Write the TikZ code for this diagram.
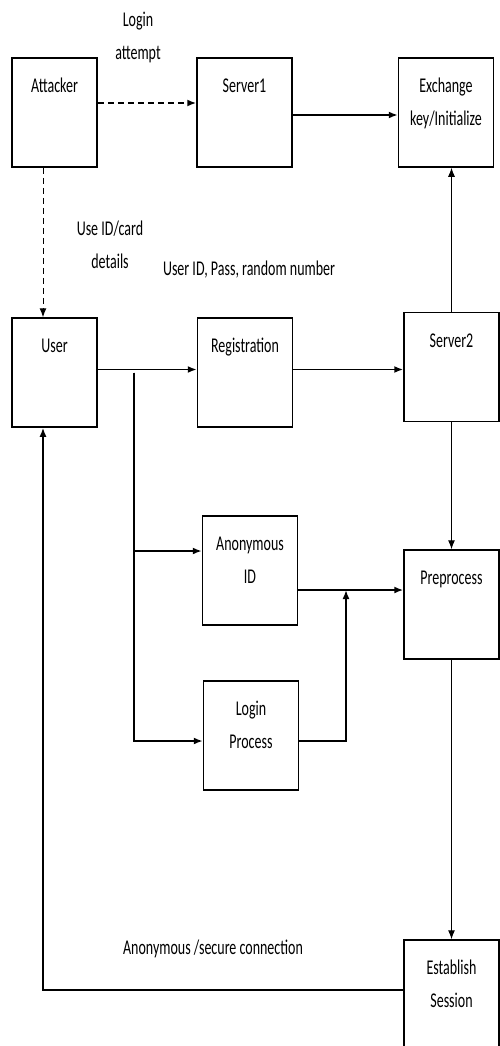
\documentclass[tikz,border=0pt]{standalone}
\usepackage{fontspec}
\setmainfont{Carlito}
\usetikzlibrary{arrows.meta}
\newcommand{\vtxt}[1]{\scalebox{1}[1.5]{\begin{tabular}{@{}c@{}}#1\end{tabular}}}

\begin{document}
\begin{tikzpicture}[x=1pt, y=-1pt,
        font=\fontsize{14}{22}\selectfont,
        >={Latex[length=9pt, width=7pt]},
        blk/.style={draw, line width=1.5pt, minimum width=95pt, minimum height=109pt, inner sep=0pt},
        narrow/.style={blk, minimum width=85pt},
        ttl/.style={anchor=north, inner sep=0pt, yshift=-12pt},
        conn/.style={line width=1.7pt},
        thin/.style={line width=1pt},
        dsh/.style={dash pattern=on 6pt off 4pt}]

    \clip (0,0) rectangle (500,1046);

    % ---------- boxes ----------
    \node[narrow, label={[ttl]north:\vtxt{Attacker}}] (att) at (54.5,112.5) {};
    \node[blk, label={[ttl]north:\vtxt{Server1}}] (srv1) at (244.5,112.5) {};
    \node[blk, label={[ttl]north:\vtxt{Exchange\\key/Initialize}}] (exch) at (446,112.5) {};

    \node[narrow, label={[ttl]north:\vtxt{User}}] (user) at (54.5,372.5) {};
    \node[blk, label={[ttl]north:\vtxt{Registration}}] (reg) at (245,372.5) {};
    \node[blk, label={[ttl]north:\vtxt{Server2}}] (srv2) at (451.5,367) {};

    \node[blk, label={[ttl]north:\vtxt{Anonymous\\ID}}] (anon) at (250,570.5) {};
    \node[blk, label={[ttl]north:\vtxt{Login\\Process}}] (login) at (251,735.5) {};
    \node[blk, label={[ttl]north:\vtxt{Preprocess}}] (pre) at (451.5,604.5) {};
    \node[blk, minimum height=120pt, label={[ttl]north:\vtxt{Establish\\Session}}] (est) at (451.5,1000) {};

    % ---------- free labels ----------
    \node (latt) at (138,36) {\vtxt{Login\\attempt}};
    \node (lcard) at (110,245) {\vtxt{Use ID/card\\details}};
    \node (lreg) at (249,269) {\vtxt{User ID, Pass, random number}};
    \node (lsec) at (213,948) {\vtxt{Anonymous /secure connection}};

    % ---------- connectors ----------
    \coordinate (br) at ([xshift=36pt]user.east);
    \coordinate (jn) at (346,590);

    \draw[conn, dsh, ->] ([yshift=9.5pt]att.east) -- ([yshift=9.5pt]srv1.west);
    \draw[conn, ->] ([yshift=-2.5pt]srv1.east) -- ([yshift=-2.5pt]exch.west);
    \draw[thin, dsh, ->] ([xshift=-11.5pt]att.south) -- ([xshift=-11.5pt]user.north);
    \draw[conn, ->] ([yshift=3pt]user.east) -- ([yshift=3pt]reg.west);
    \draw[conn, ->] ([yshift=3pt]reg.east) -- ([yshift=3pt]reg.east -| srv2.west);
    \draw[thin, ->] (srv2.north) -- (exch.south -| srv2.north);
    \draw[conn, ->] (br) |- ([yshift=19.5pt]anon.west);
    \draw[conn, ->] (br) |- ([yshift=-5.5pt]login.west);
    \draw[conn, ->] ([yshift=-19.5pt]anon.east) -- ([yshift=-19.5pt]anon.east -| pre.west);
    \draw[conn, ->] ([yshift=-5.5pt]login.east) -| (jn);
    \draw[thin, ->] (srv2.south) -- (pre.north);
    \draw[thin, ->] (pre.south) -- (est.north);
    \draw[conn, ->] ([yshift=10pt]est.west) -| ([xshift=-11.5pt]user.south);
\end{tikzpicture}
\end{document}
